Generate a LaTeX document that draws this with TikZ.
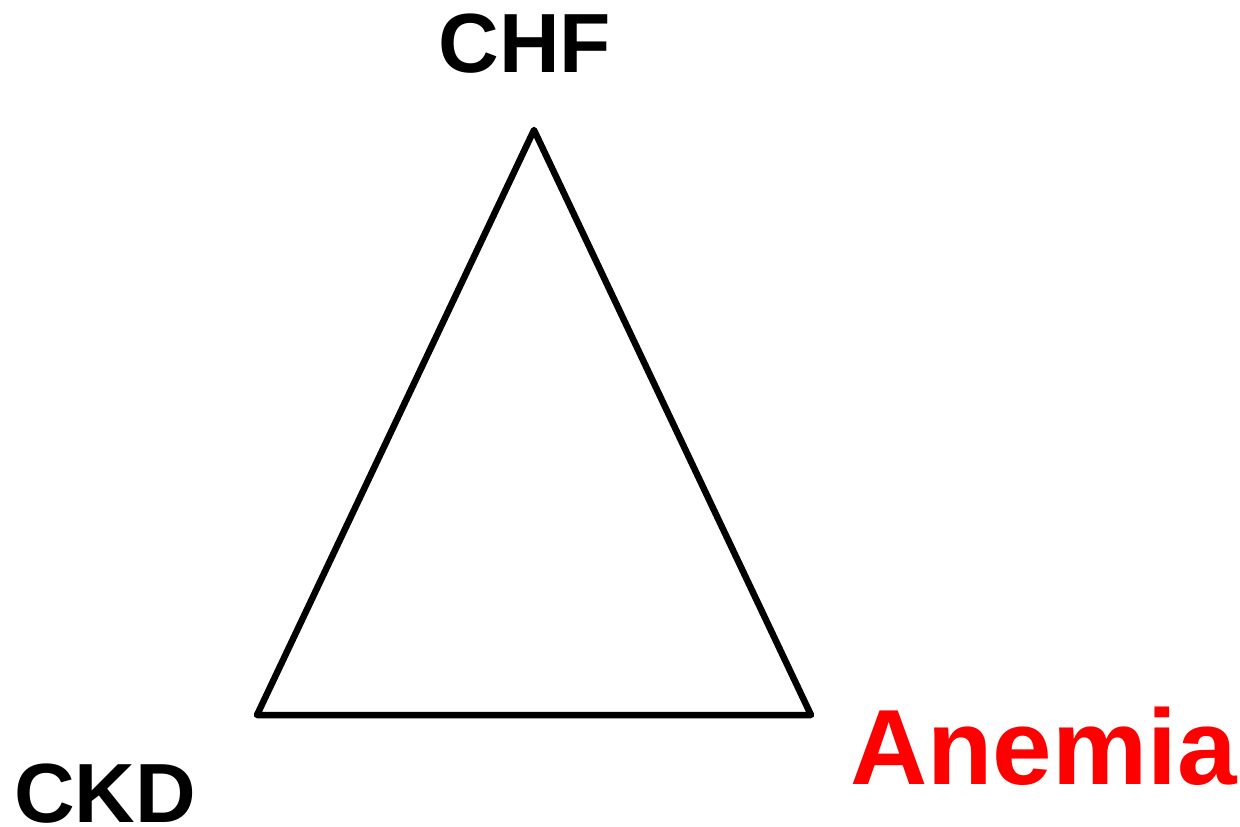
\documentclass[tikz,border=0pt]{standalone}
\usepackage{fontspec}
\setmainfont{Liberation Sans}
\definecolor{labred}{RGB}{255,0,0}
\begin{document}
\begin{tikzpicture}[x=1pt,y=-1pt,
  lab/.style={font=\bfseries\fontsize{84}{84}\selectfont, inner sep=0pt},
  edge/.style={draw=black, line width=6.5pt, line join=round, line cap=round}]
\useasboundingbox (0,0) rectangle (1240,827);
\coordinate (top) at (534,130);
\coordinate (bl) at (257,715);
\coordinate (br) at (811,715);
\draw[edge] (top) -- (bl) -- (br) -- cycle;
\node[lab, anchor=base] (chf) at (525,72) {CHF};
\node[lab, anchor=base west] (ckd) at (14,822) {CKD};
\node[lab, anchor=base west, text=labred, font=\bfseries\fontsize{107}{107}\selectfont] (anemia) at (850,784) {Anemia};
\end{tikzpicture}
\end{document}
